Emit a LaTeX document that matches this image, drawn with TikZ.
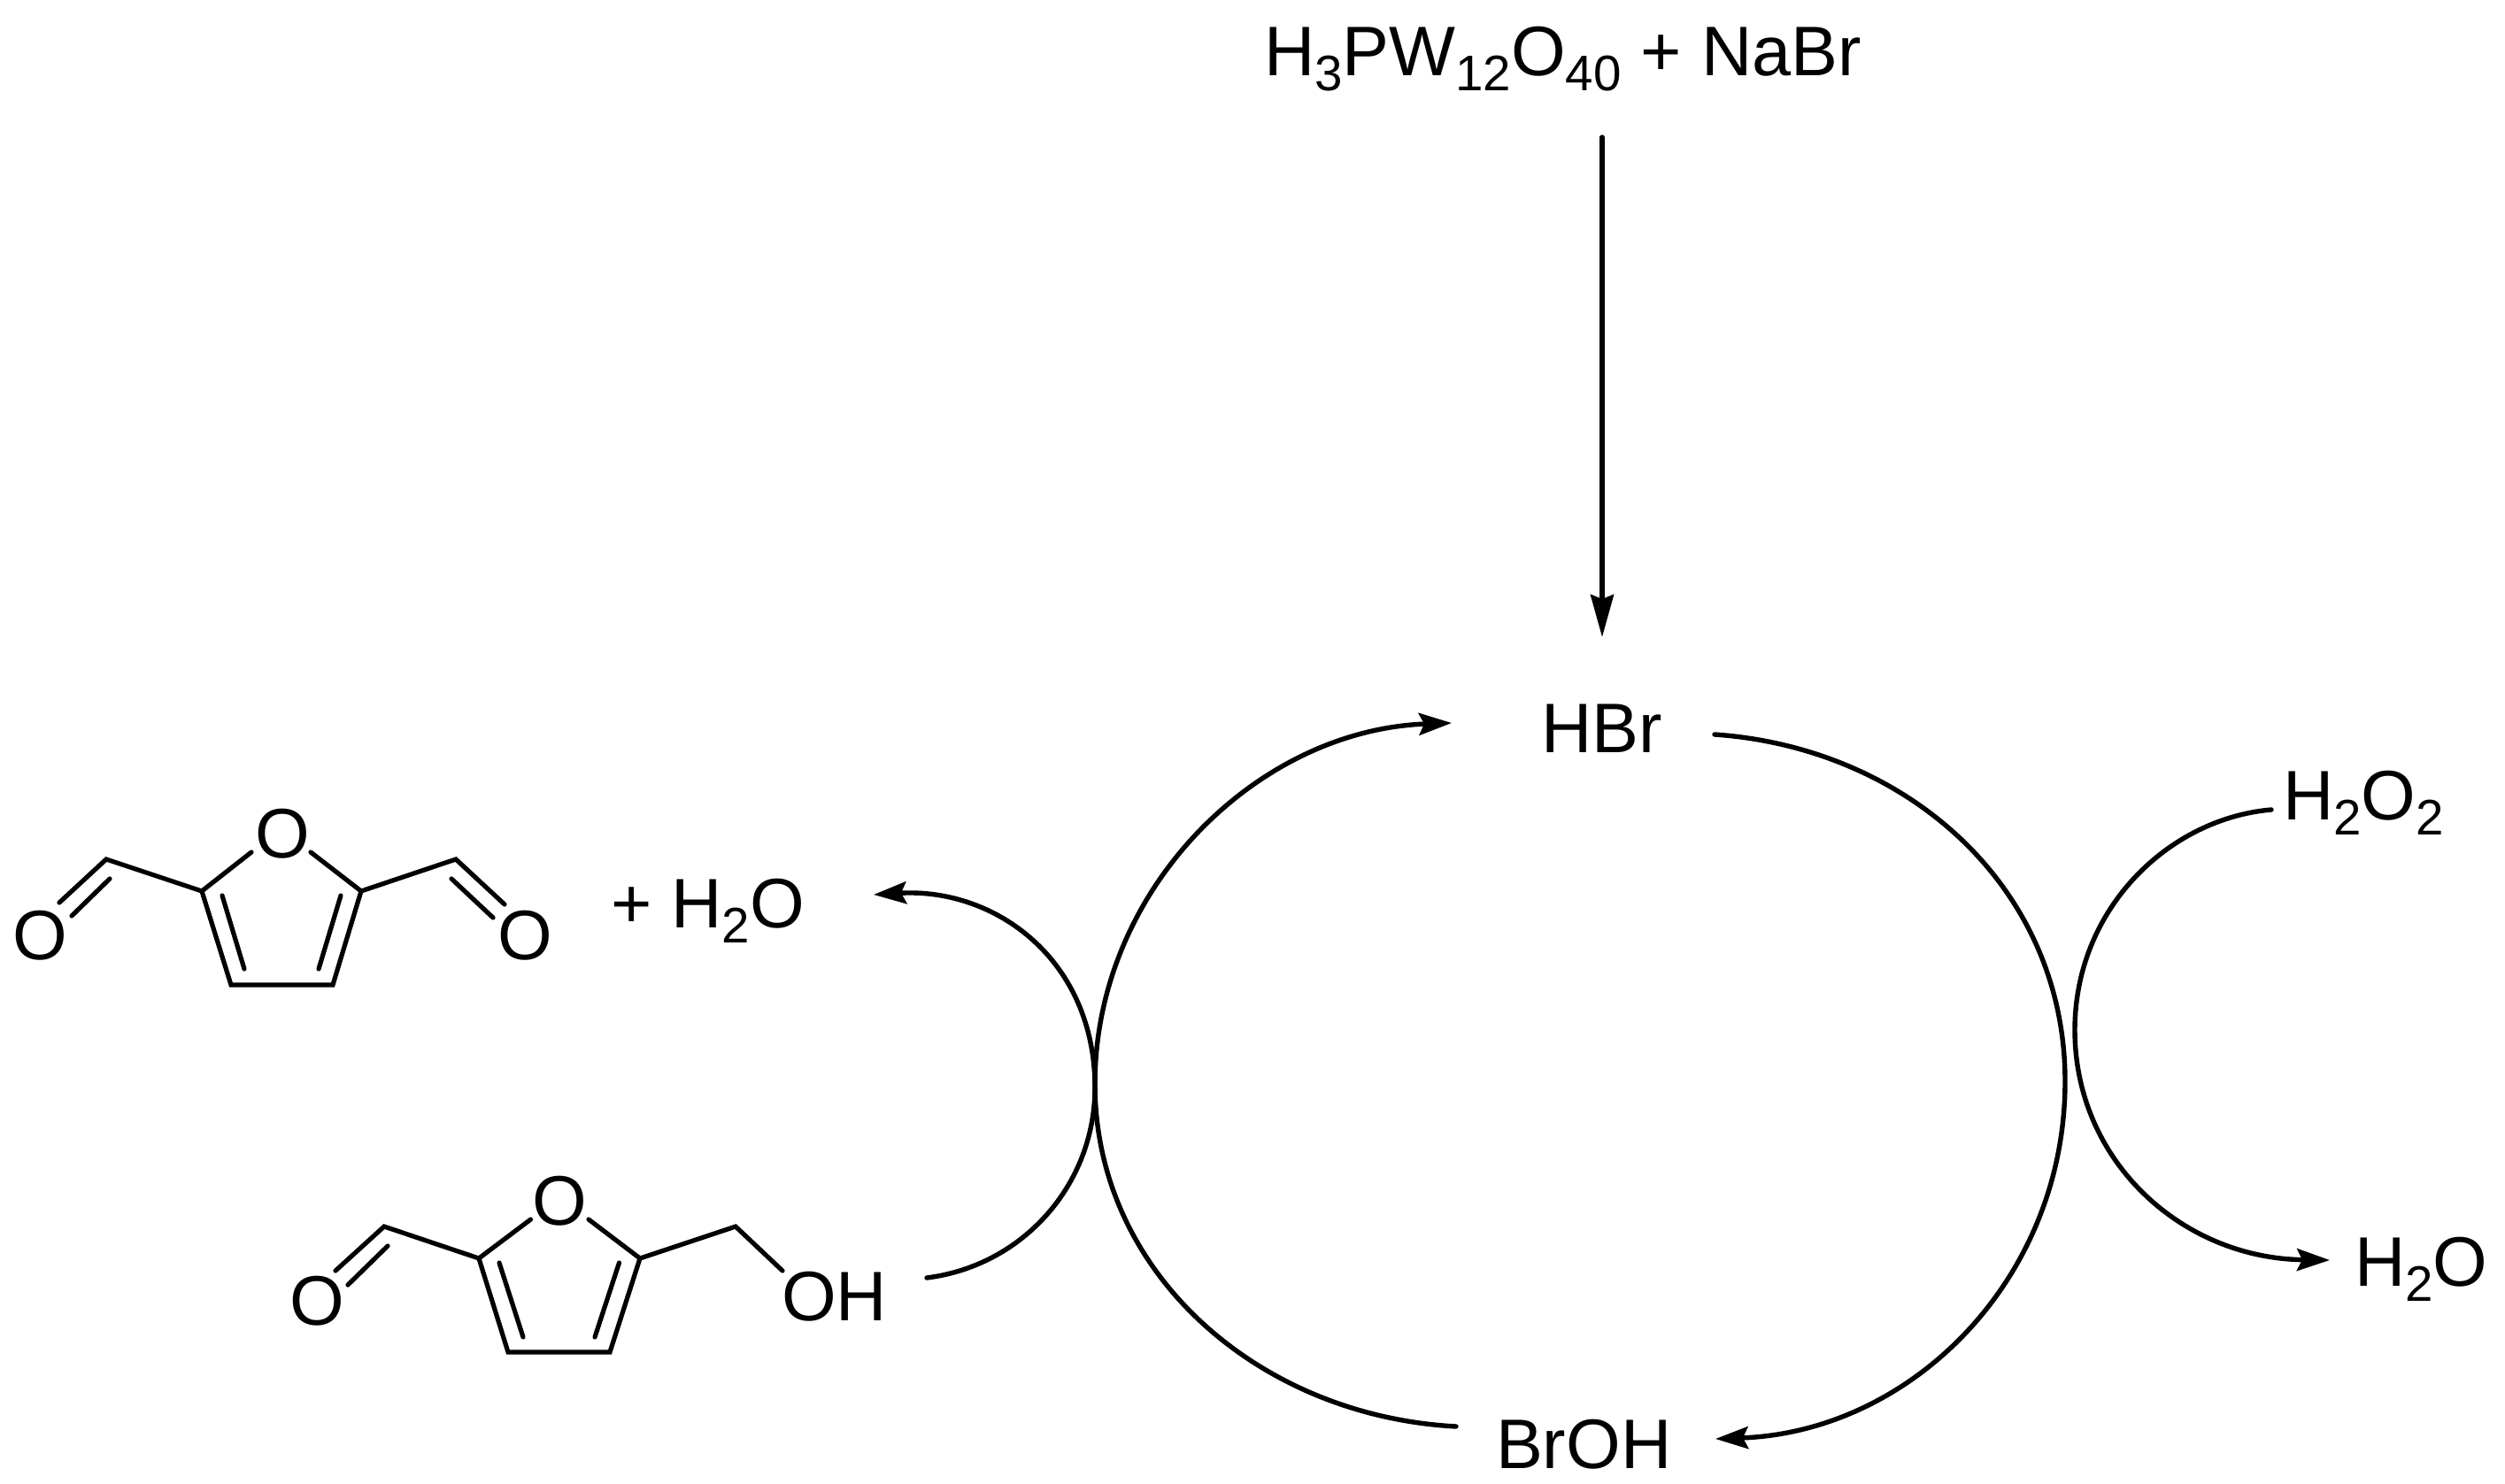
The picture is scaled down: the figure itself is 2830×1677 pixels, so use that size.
\documentclass[tikz,border=0pt]{standalone}
\usepackage{fontspec}
\setmainfont{Liberation Sans}
\usetikzlibrary{arrows.meta}
\newcommand\lowsub[1]{\raisebox{-17pt}{\fontsize{56.5}{56.5}\selectfont #1}}
\tikzset{
  lbl/.style={anchor=base west,inner sep=0pt,outer sep=0pt,font=\fontsize{79.3}{79.3}\selectfont},
  atom/.style={anchor=center,inner sep=0pt,outer sep=0pt,font=\fontsize{79.3}{79.3}\selectfont},
  bond/.style={line width=5.2pt,line cap=round,line join=miter},
  conn/.style={line width=5.4pt,line cap=round},
  head/.style={-{Stealth[length=37pt,width=25pt,inset=6pt]}},
  longhead/.style={-{Stealth[length=48pt,width=26pt,inset=5pt]}}
}
\begin{document}
\begin{tikzpicture}[x=1pt,y=-1pt]
\useasboundingbox (0,0) rectangle (2830,1677);
\fill[white] (0,0) rectangle (2830,1677);
% text labels
\node[lbl] (reag) at (1428,86) {H\lowsub{3}PW\lowsub{12}O\lowsub{40} + NaBr};
\node[lbl] (hbr) at (1741,850) {HBr};
\node[lbl] (broh) at (1690,1659) {BrOH};
\node[lbl] (hoo) at (2579,926) {H\lowsub{2}O\lowsub{2}};
\node[lbl] (hho) at (2660,1453) {H\lowsub{2}O};
\node[lbl] (ph2o) at (690,1048) {+ H\lowsub{2}O};
\node[lbl] (oh) at (883,1492) {OH};
% connector ends
\coordinate (a1) at (1810,155);
\coordinate (a2) at (1810,720);
\coordinate (r1) at (1937,830);
\coordinate (r2) at (2333,1222);
\coordinate (r3) at (1938,1626);
\coordinate (l1) at (1645,1612);
\coordinate (l2) at (1237,1225);
\coordinate (l3) at (1640,817);
\coordinate (s1) at (1047,1444);
\coordinate (s2) at (1237,1229);
\coordinate (s3) at (987,1011);
\coordinate (p1) at (2566,915);
\coordinate (p2) at (2344,1164);
\coordinate (p3) at (2632,1424);
% connectors
\draw[conn,longhead] (a1) -- (a2);
\draw[conn,head] (r1) .. controls (2155,845) and (2333,1003) .. (r2)
                      .. controls (2333,1445) and (2160,1618) .. (r3);
\draw[conn,head] (l1) .. controls (1421,1600) and (1237,1438) .. (l2)
                      .. controls (1237,1005) and (1420,825) .. (l3);
\draw[conn,head] (s1) .. controls (1155.7,1430.4) and (1237,1338.6) .. (s2)
                      .. controls (1237,1085) and (1125,1003) .. (s3);
\draw[conn,head] (p1) .. controls (2450,925) and (2344,1027) .. (p2)
                      .. controls (2344,1312) and (2465,1422) .. (p3);
% upper furan (2,5-diformylfuran)
\node[atom] (ua) at (319,942) {O};
\node[atom] (ub) at (45,1057) {O};
\node[atom] (uc) at (593,1057) {O};
\coordinate (u2) at (228,1007);
\coordinate (u5) at (408,1007);
\coordinate (u3) at (261,1113);
\coordinate (u4) at (376,1113);
\coordinate (uoa) at (284,963);
\coordinate (uob) at (351,963);
\coordinate (ucl) at (120,971);
\coordinate (ucr) at (515,971);
\coordinate (ud1) at (67,1020);
\coordinate (ud2) at (124,993);
\coordinate (ud3) at (81,1035);
\coordinate (ue1) at (570,1022);
\coordinate (ue2) at (510,993);
\coordinate (ue3) at (557,1037);
\coordinate (ui1) at (251,1012);
\coordinate (ui2) at (276,1095);
\coordinate (ui3) at (385,1012);
\coordinate (ui4) at (360,1095);
\draw[bond] (uoa) -- (u2) -- (u3) -- (u4) -- (u5) -- (uob);
\draw[bond] (ui1) -- (ui2);
\draw[bond] (ui3) -- (ui4);
\draw[bond] (ud1) -- (ucl) -- (u2);
\draw[bond] (ud2) -- (ud3);
\draw[bond] (ue1) -- (ucr) -- (u5);
\draw[bond] (ue2) -- (ue3);
% lower furan (HMF)
\node[atom] (la) at (632,1357) {O};
\node[atom] (lb) at (358,1470) {O};
\coordinate (l2a) at (541,1422);
\coordinate (l5a) at (723,1422);
\coordinate (l3a) at (574,1528);
\coordinate (l4a) at (689,1528);
\coordinate (loa) at (599.5,1378);
\coordinate (lob) at (665,1378);
\coordinate (lcl) at (434,1386);
\coordinate (lcr) at (831,1386);
\coordinate (lh) at (884,1436);
\coordinate (ld1) at (379,1436);
\coordinate (ld2) at (438,1408);
\coordinate (ld3) at (393,1452);
\coordinate (li1) at (564,1427);
\coordinate (li2) at (591,1511);
\coordinate (li3) at (699.5,1427);
\coordinate (li4) at (672,1511);
\draw[bond] (loa) -- (l2a) -- (l3a) -- (l4a) -- (l5a) -- (lob);
\draw[bond] (li1) -- (li2);
\draw[bond] (li3) -- (li4);
\draw[bond] (ld1) -- (lcl) -- (l2a);
\draw[bond] (ld2) -- (ld3);
\draw[bond] (l5a) -- (lcr) -- (lh);
\end{tikzpicture}
\end{document}
